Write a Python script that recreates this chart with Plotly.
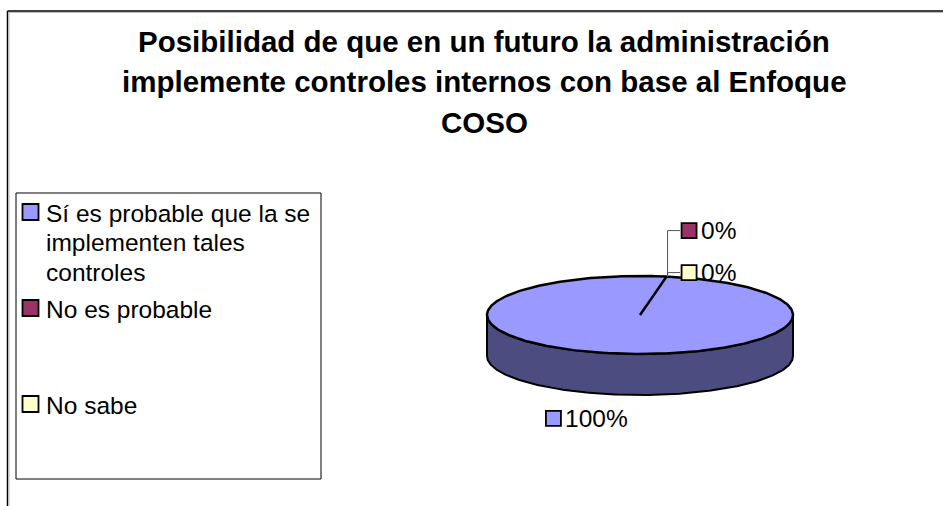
import numpy as np
import plotly.graph_objects as go

# ---------------- data ----------------
categories = ["Sí es probable que la se implementen tales controles", "No es probable", "No sabe"]
legend_lines = [["Sí es probable que la se", "implementen tales", "controles"], ["No es probable"], ["No sabe"]]
values = [100, 0, 0]
title_lines = ["Posibilidad de que en un futuro la administración",
               "implemente controles internos con base al Enfoque",
               "COSO"]

# ---------------- style ----------------
colors = ["#9999FF", "#993366", "#FFFFCC"]
side_colors = ["#4C4C80", "#4C1A33", "#808066"]
W, H = 943, 506
CX, CY, RX, RY, DEPTH = 640, 315, 153, 39, 41
START = 10  # first slice boundary, degrees clockwise from top
FONT = "Liberation Sans, Arial, sans-serif"
label_offsets = [(-60, 24), (22.5, -46), (22.5, -4)]  # marker offset from rim anchor
legend_marker_y = [212, 308, 404]
legend_line_gap = 29.5

total = sum(values)
shares = [v / total for v in values]
cum = np.concatenate([[0], np.cumsum(shares)])
starts = START + 360 * cum[:-1]
ends = START + 360 * cum[1:]


def arc(a, b, dy=0, n=200):
    t = np.radians(np.linspace(a, b, n))
    return CX + RX * np.sin(t), CY - RY * np.cos(t) + dy


fig = go.Figure()

# side walls (front half only)
for i, (s, e) in enumerate(zip(starts, ends)):
    for k in (0, 360):
        a, b = max(s, 90 + k), min(e, 270 + k)
        if b > a:
            tx, ty = arc(a, b)
            bx, by = arc(b, a, DEPTH)
            fig.add_trace(go.Scatter(
                x=np.concatenate([tx, bx, tx[:1]]), y=np.concatenate([ty, by, ty[:1]]),
                mode="lines", fill="toself", fillcolor=side_colors[i],
                line=dict(color="black", width=2), hoverinfo="skip", showlegend=False))

# top faces
for i, (s, e) in enumerate(zip(starts, ends)):
    if e - s <= 0:
        continue
    ax_, ay_ = arc(s, e, n=400)
    fig.add_trace(go.Scatter(
        x=np.concatenate([[CX], ax_, [CX]]), y=np.concatenate([[CY], ay_, [CY]]),
        mode="lines", fill="toself", fillcolor=colors[i],
        line=dict(color="black", width=2.5), hoverinfo="skip", showlegend=False))

# data labels
annotations = []
for i, (s, e) in enumerate(zip(starts, ends)):
    mid = (s + e) / 2
    t = np.radians(mid)
    front = np.cos(t) < 0
    axp = CX + RX * np.sin(t)
    ayp = CY - RY * np.cos(t) + (DEPTH if front else 0)
    dx, dy = label_offsets[i]
    mx, my = axp + dx, ayp + dy
    if shares[i] == 0:
        fig.add_trace(go.Scatter(x=[axp + 1, axp + 1, mx - 9], y=[ayp, my, my], mode="lines",
                                 line=dict(color="#555555", width=1), hoverinfo="skip", showlegend=False))
    fig.add_trace(go.Scatter(x=[mx], y=[my], mode="markers",
                             marker=dict(symbol="square", size=15, color=colors[i],
                                         line=dict(color="black", width=1.8)),
                             hoverinfo="skip", showlegend=False))
    annotations.append(dict(x=mx + 10, y=my, xref="x", yref="y", text=f"{round(shares[i] * 100)}%",
                            showarrow=False, xanchor="left", yanchor="middle",
                            font=dict(family=FONT, size=24.5, color="black")))

# legend (drawn)
for i, lines in enumerate(legend_lines):
    fig.add_trace(go.Scatter(x=[30.5], y=[legend_marker_y[i]], mode="markers",
                             marker=dict(symbol="square", size=16, color=colors[i],
                                         line=dict(color="black", width=1.8)),
                             hoverinfo="skip", showlegend=False))
    for j, ln in enumerate(lines):
        annotations.append(dict(x=44, y=legend_marker_y[i] + 1 + j * legend_line_gap, xref="x", yref="y",
                                text=ln, showarrow=False, xanchor="left", yanchor="middle",
                                font=dict(family=FONT, size=24.5, color="black")))

# title
for j, ln in enumerate(title_lines):
    annotations.append(dict(x=484, y=41 + j * 40.5, xref="x", yref="y", text=f"<b>{ln}</b>",
                            showarrow=False, xanchor="center", yanchor="middle",
                            font=dict(family=FONT, size=29.5, color="black")))

shapes = [
    dict(type="line", xref="x", yref="y", x0=7.5, y0=11, x1=W, y1=11, line=dict(color="black", width=1.5)),
    dict(type="line", xref="x", yref="y", x0=7.5, y0=11, x1=7.5, y1=H, line=dict(color="black", width=1.5)),
    dict(type="line", xref="x", yref="y", x0=9, y0=12.5, x1=W, y1=12.5, line=dict(color="#BBBBBB", width=1)),
    dict(type="line", xref="x", yref="y", x0=9, y0=12.5, x1=9, y1=H, line=dict(color="#BBBBBB", width=1)),
    dict(type="rect", xref="x", yref="y", x0=16, y0=193, x1=321, y1=479, line=dict(color="black", width=1)),
]

fig.update_layout(
    width=W, height=H, autosize=False,
    margin=dict(l=0, r=0, t=0, b=0),
    paper_bgcolor="white", plot_bgcolor="white",
    xaxis=dict(range=[0, W], visible=False, fixedrange=True),
    yaxis=dict(range=[H, 0], visible=False, fixedrange=True),
    annotations=annotations, shapes=shapes, showlegend=False,
)

fig.write_html("out.html")
